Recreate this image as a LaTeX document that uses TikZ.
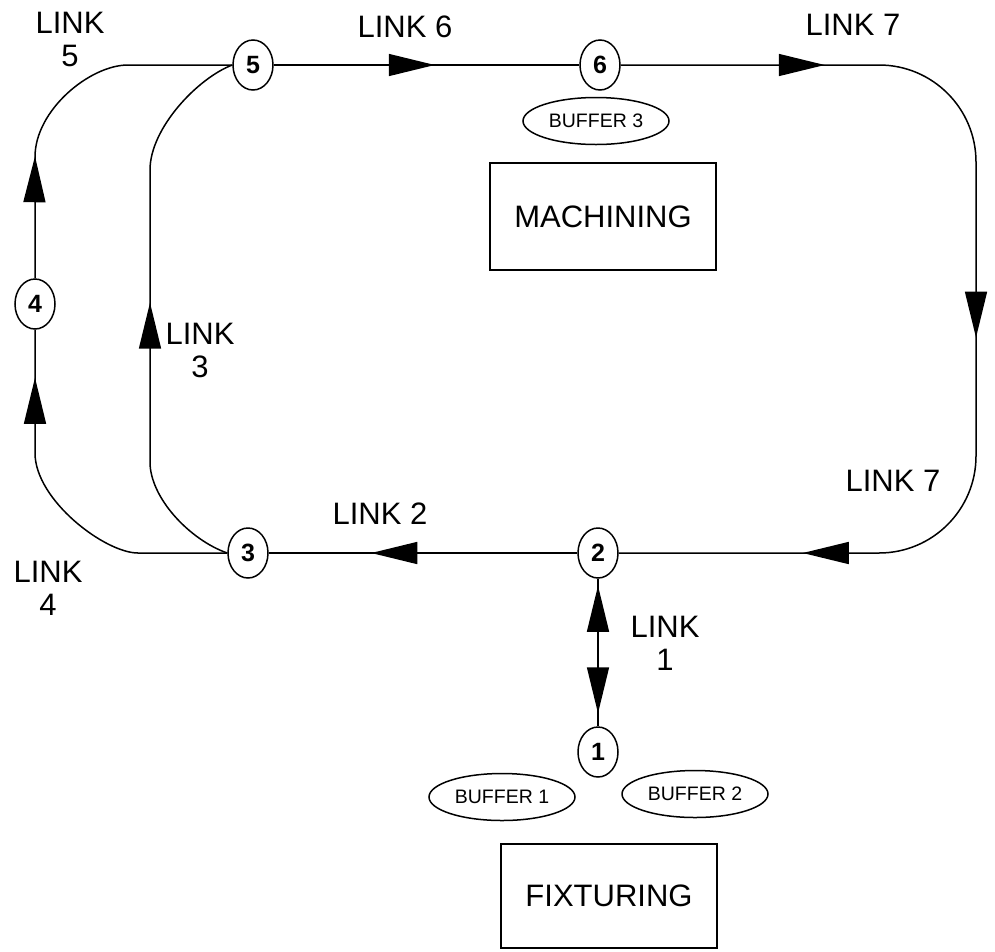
\documentclass[tikz,border=0pt]{standalone}
\usepackage{fontspec}
\setmainfont{Liberation Sans}
\usetikzlibrary{shapes.geometric,arrows.meta,decorations.markings}
\tikzset{
  tri/.tip={Triangle[length=46pt,width=22pt]},
}
\begin{document}
\begin{tikzpicture}[x=1pt,y=-1pt,
  line width=1.5pt,
  stn/.style={ellipse,draw,minimum width=40pt,minimum height=50pt,inner sep=0pt,font=\bfseries\fontsize{25}{25}\selectfont},
  buf/.style={ellipse,draw,minimum width=146pt,minimum height=47pt,inner sep=0pt,font=\fontsize{19.5}{19.5}\selectfont},
  area/.style={rectangle,draw,inner sep=0pt,font=\fontsize{31}{31}\selectfont},
  lbl/.style={align=center,inner sep=0pt,font=\fontsize{31}{33}\selectfont},
  tipat/.style={postaction={decorate,decoration={markings,mark=at position #1 with {\arrow{tri}}}}},
  tipback/.style={postaction={decorate,decoration={markings,mark=at position #1 with {\arrowreversed{tri}}}}},
]
\useasboundingbox (0,0) rectangle (995,951);

% stations
\node[stn] (n5) at (253,65) {5};
\node[stn] (n6) at (600,65) {6};
\node[stn] (n4) at (35,304) {4};
\node[stn] (n3) at (248,553) {3};
\node[stn] (n2) at (598,553) {2};
\node[stn] (n1) at (598,752) {1};

% buffers and areas
\node[buf] (b3) at (596,121) {BUFFER 3};
\node[buf] (b1) at (502,797) {BUFFER 1};
\node[buf] (b2) at (695,794) {BUFFER 2};
\node[area,minimum width=226pt,minimum height=107pt] (mach) at (603,216.5) {MACHINING};
\node[area,minimum width=216pt,minimum height=104pt] (fix) at (609,896) {FIXTURING};

% corner coordinates
\coordinate (ne) at (976,65);
\coordinate (se) at (976,553);

% link 6
\draw[tipat=161pt] (n5) -- (n6);
% link 7
\draw[rounded corners=97pt,tipat=204pt,tipat=-531pt,tipat=-184pt] (n6) -- (ne) -- (se) -- (n2);
% link 2
\draw[tipat=206pt] (n2) -- (n3);
% link 1
\draw[tipback=7pt,tipat=-13pt] (n2) -- (n1);
% link 3
\draw[tipat=285pt] (n3.west) .. controls (190,540) and (150,498) .. (150,462) -- (150,170)
  .. controls (150,128) and (198,78) .. (n5.west);
% link 4
\draw[tipat=-48pt] (n3.west) -- (138,553) .. controls (105,553) and (35,500) .. (35,453) -- (n4);
% link 5
\draw[tipat=122pt] (n4) -- (35,157) .. controls (35,110) and (90,65) .. (128,65) -- (n5.west);

% labels
\node[lbl] (l5) at (70,39) {LINK\\5};
\node[lbl] (l6) at (405,27) {LINK 6};
\node[lbl] (l7a) at (853,25) {LINK 7};
\node[lbl] (l3) at (200,350) {LINK\\3};
\node[lbl] (l4) at (48,588) {LINK\\4};
\node[lbl] (l2) at (380,514) {LINK 2};
\node[lbl] (l7b) at (893,481) {LINK 7};
\node[lbl] (l1) at (665,643) {LINK\\1};
\end{tikzpicture}
\end{document}
